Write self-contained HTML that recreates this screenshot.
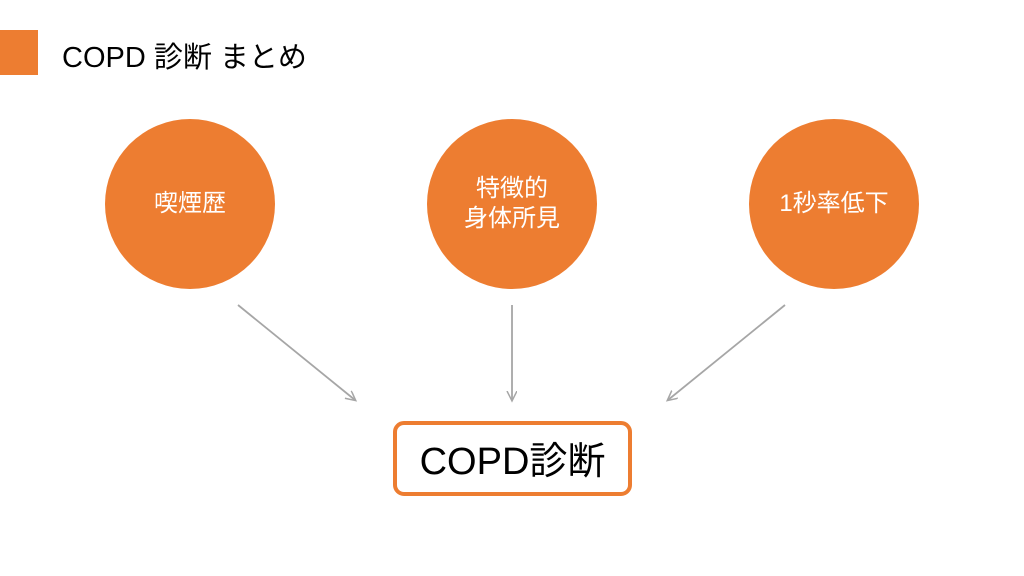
<!DOCTYPE html>
<html><head><meta charset="utf-8"><style>
body{margin:0;width:1024px;height:576px;background:#fff;position:relative;overflow:hidden;font-family:"Liberation Sans","Noto Sans CJK JP",sans-serif}
.sq{position:absolute;left:0;top:30px;width:38px;height:45px;background:#ED7D31}
.t{position:absolute;left:62px;top:34px;font-size:29px;color:#000;white-space:nowrap}
.c{position:absolute;top:119px;width:170px;height:170px;border-radius:50%;background:#ED7D31;color:#fff;display:flex;align-items:center;justify-content:center;text-align:center;font-size:24px;line-height:30px}
.b{position:absolute;left:393px;top:421px;width:231px;height:65px;border:4px solid #ED7D31;border-radius:11px;display:flex;align-items:center;justify-content:center;font-size:38px;color:#000;box-sizing:content-box;padding-bottom:2px}
</style></head><body>
<div class="sq"></div>
<div class="t">COPD 診断 まとめ</div>
<div class="c" style="left:105px">喫煙歴</div>
<div class="c" style="left:427px">特徴的<br>身体所見</div>
<div class="c" style="left:749px">1秒率低下</div>
<svg width="1024" height="576" style="position:absolute;left:0;top:0">
<defs><marker id="a" markerWidth="12" markerHeight="12" refX="9" refY="5" orient="auto" markerUnits="userSpaceOnUse"><path d="M0,0 L10,5 L0,10" fill="none" stroke="#A6A6A6" stroke-width="1.5"/></marker></defs>
<g stroke="#A6A6A6" stroke-width="1.8" fill="none">
<line x1="238" y1="305" x2="355" y2="400" marker-end="url(#a)"/>
<line x1="512" y1="305" x2="512" y2="400" marker-end="url(#a)"/>
<line x1="785" y1="305" x2="668" y2="400" marker-end="url(#a)"/>
</g></svg>
<div class="b">COPD診断</div>
</body></html>
